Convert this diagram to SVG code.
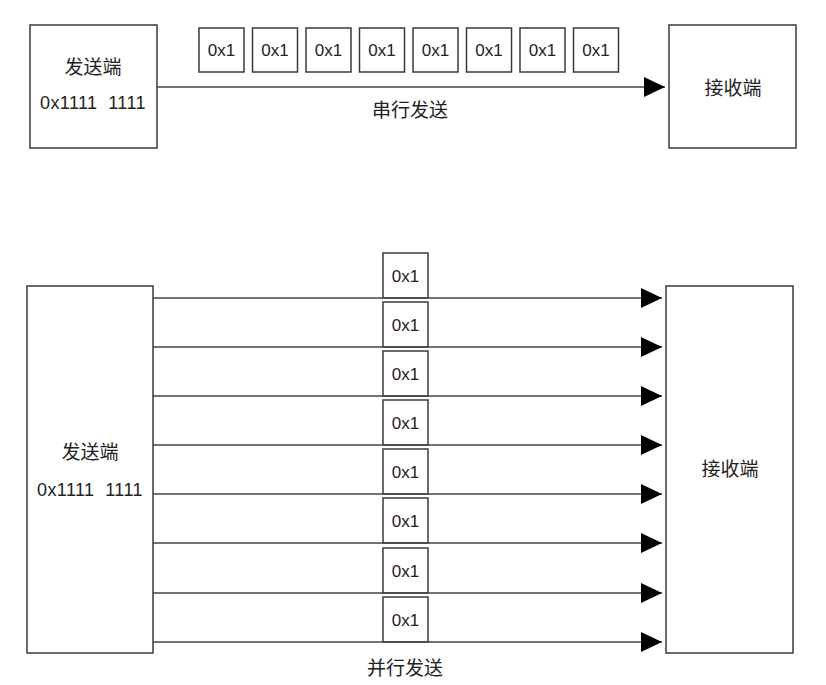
<svg xmlns="http://www.w3.org/2000/svg" width="826" height="685" viewBox="0 0 826 685">
<defs>
<style>
.box{fill:#fff;stroke:#3a3a3a;stroke-width:1.5}
.ln{stroke:#444;stroke-width:1.5;fill:none}
.t{font-family:"Liberation Sans","Noto Sans CJK SC",sans-serif;font-size:17px;fill:#222;text-anchor:middle}
.w{font-size:18px;white-space:pre;letter-spacing:0.4px}
.c{font-family:"Noto Sans CJK SC",sans-serif;font-size:19px;fill:#222;text-anchor:middle}
</style>
<marker id="arr" markerUnits="userSpaceOnUse" markerWidth="22" markerHeight="22" refX="21" refY="10" orient="auto" viewBox="0 0 22 20">
<path d="M0,0 L21,10 L0,20 z" fill="#000"/>
</marker>
</defs>
<rect width="826" height="685" fill="#fff"/>

<!-- Serial -->
<g id="serial-sender">
<rect class="box" x="30" y="25" width="127" height="123"/>
<text class="c" x="93" y="74">发送端</text>
<text class="t w" x="93" y="109" xml:space="preserve">0x1111  1111</text>
</g>
<g id="serial-receiver">
<rect class="box" x="669" y="25" width="127" height="123"/>
<text class="c" x="733" y="95">接收端</text>
</g>
<g id="serial-data">
<rect class="box" x="199" y="28" width="45" height="44"/><text class="t" x="221.5" y="56">0x1</text>
<rect class="box" x="252.5" y="28" width="45" height="44"/><text class="t" x="275" y="56">0x1</text>
<rect class="box" x="306" y="28" width="45" height="44"/><text class="t" x="328.5" y="56">0x1</text>
<rect class="box" x="359.5" y="28" width="45" height="44"/><text class="t" x="382" y="56">0x1</text>
<rect class="box" x="413" y="28" width="45" height="44"/><text class="t" x="435.5" y="56">0x1</text>
<rect class="box" x="466.5" y="28" width="45" height="44"/><text class="t" x="489" y="56">0x1</text>
<rect class="box" x="520" y="28" width="45" height="44"/><text class="t" x="542.5" y="56">0x1</text>
<rect class="box" x="573.5" y="28" width="45" height="44"/><text class="t" x="596" y="56">0x1</text>
</g>
<text class="c" x="410" y="117">串行发送</text>

<!-- Parallel -->
<g id="parallel-sender">
<rect class="box" x="27" y="286" width="126" height="367"/>
<text class="c" x="90" y="459">发送端</text>
<text class="t w" x="90" y="496" xml:space="preserve">0x1111  1111</text>
</g>
<g id="parallel-receiver">
<rect class="box" x="666" y="286" width="127" height="367"/>
<text class="c" x="730" y="476">接收端</text>
</g>
<g id="parallel-data">
<rect class="box" x="383" y="253" width="45" height="45"/><text class="t" x="405.5" y="281.5">0x1</text>
<rect class="box" x="383" y="302" width="45" height="45"/><text class="t" x="405.5" y="330.5">0x1</text>
<rect class="box" x="383" y="351" width="45" height="45"/><text class="t" x="405.5" y="379.5">0x1</text>
<rect class="box" x="383" y="400" width="45" height="45"/><text class="t" x="405.5" y="428.5">0x1</text>
<rect class="box" x="383" y="449" width="45" height="45"/><text class="t" x="405.5" y="477.5">0x1</text>
<rect class="box" x="383" y="498" width="45" height="45"/><text class="t" x="405.5" y="526.5">0x1</text>
<rect class="box" x="383" y="548" width="45" height="45"/><text class="t" x="405.5" y="576.5">0x1</text>
<rect class="box" x="383" y="597" width="45" height="45"/><text class="t" x="405.5" y="625.5">0x1</text>
</g>
<text class="c" x="405" y="675">并行发送</text>

<g id="connectors">
<line class="ln" x1="157" y1="87" x2="665" y2="87" marker-end="url(#arr)"/>
<line class="ln" x1="153" y1="298" x2="662" y2="298" marker-end="url(#arr)"/>
<line class="ln" x1="153" y1="347" x2="662" y2="347" marker-end="url(#arr)"/>
<line class="ln" x1="153" y1="396" x2="662" y2="396" marker-end="url(#arr)"/>
<line class="ln" x1="153" y1="445" x2="662" y2="445" marker-end="url(#arr)"/>
<line class="ln" x1="153" y1="494" x2="662" y2="494" marker-end="url(#arr)"/>
<line class="ln" x1="153" y1="543" x2="662" y2="543" marker-end="url(#arr)"/>
<line class="ln" x1="153" y1="593" x2="662" y2="593" marker-end="url(#arr)"/>
<line class="ln" x1="153" y1="642" x2="662" y2="642" marker-end="url(#arr)"/>
</g>
</svg>
